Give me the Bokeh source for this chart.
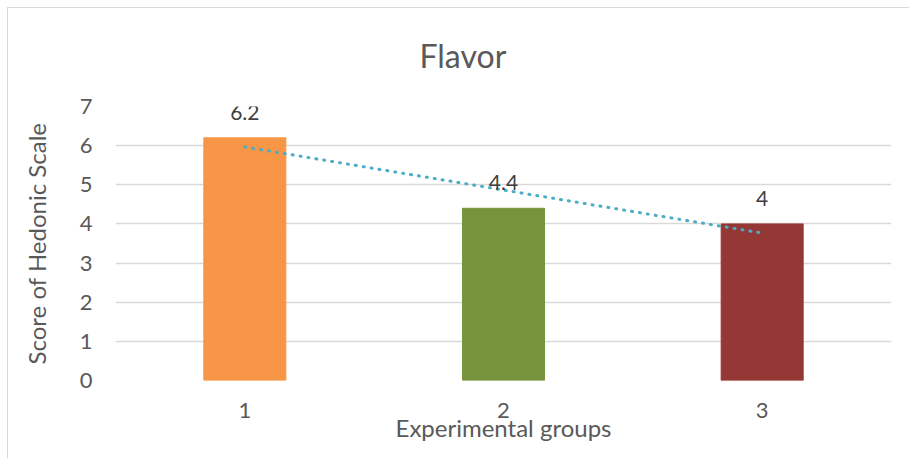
import numpy as np
from bokeh.plotting import figure
from bokeh.models import ColumnDataSource, Range1d, FixedTicker, InlineStyleSheet
from bokeh.core.properties import value
from bokeh.embed import file_html
from bokeh.resources import INLINE

# Sensory panel results for flavor
groups = [1, 2, 3]
scores = [6.2, 4.4, 4.0]
score_labels = ["6.2", "4.4", "4"]
bar_colors = ["#F79646", "#77933C", "#953735"]
y_ticks = [0, 1, 2, 3, 4, 5, 6, 7]

FONT = "Lato"
TEXT_GRAY = "#595959"
GRID_GRAY = "#D9D9D9"

src = ColumnDataSource(dict(x=groups, top=scores, color=bar_colors, label=score_labels))

p = figure(
    width=909, height=458,
    x_range=Range1d(0.5, 3.5), y_range=Range1d(0, 7),
    output_backend="svg", toolbar_location=None,
    min_border_left=115, min_border_right=18,
    min_border_top=106, min_border_bottom=78,
    title="Flavor",
)
p.outline_line_color = None
p.background_fill_color = "white"
p.border_fill_color = "white"

p.title.align = "left"
p.title.text_font = FONT
p.title.text_font_style = "normal"
p.title.text_font_size = "32px"
p.title.text_color = TEXT_GRAY
p.title.standoff = 64
p.title.offset = 304

p.vbar(x="x", top="top", width=0.317, color="color", source=src)

# linear trendline through the group scores
k, b = np.polyfit(groups, scores, 1)
tx = np.array([groups[0], groups[-1]], dtype=float)
p.line(tx, k * tx + b, line_color="#4BACC6", line_width=3,
       line_dash="1 7", line_cap="round")

p.text(x="x", y="top", text="label", source=src,
       text_font=value(FONT),
       text_font_size="21px", text_color="#404040",
       text_align="center", text_baseline="bottom", y_offset=-18)

p.xaxis.ticker = FixedTicker(ticks=groups)
p.yaxis.ticker = FixedTicker(ticks=y_ticks)
for ax in (p.xaxis[0], p.yaxis[0]):
    ax.axis_line_color = None
    ax.major_tick_line_color = None
    ax.minor_tick_line_color = None
    ax.major_label_text_font = FONT
    ax.major_label_text_font_size = "22px"
    ax.major_label_text_color = TEXT_GRAY
    ax.axis_label_text_font = FONT
    ax.axis_label_text_font_style = "normal"
    ax.axis_label_text_font_size = "24px"
    ax.axis_label_text_color = TEXT_GRAY

p.xaxis.axis_label = "Experimental groups"
p.yaxis.axis_label = "Score of Hedonic Scale"
p.xaxis.major_label_standoff = 16
p.xaxis.axis_label_standoff = -8
p.yaxis.major_label_standoff = 17
p.yaxis.axis_label_standoff = 26

p.xgrid.grid_line_color = None
p.ygrid.grid_line_color = GRID_GRAY
p.ygrid.grid_line_width = 1.5

# thin border around the chart area (left and top edges fall inside the page)
p.stylesheets = [InlineStyleSheet(css="""
:host::after {
  content: ""; position: absolute; left: 7px; top: 7px;
  width: 1000px; height: 1000px; pointer-events: none;
  border-left: 1.5px solid #D9D9D9; border-top: 1.5px solid #D9D9D9;
}
""")]

open("out.html", "w").write(file_html(p, INLINE))
